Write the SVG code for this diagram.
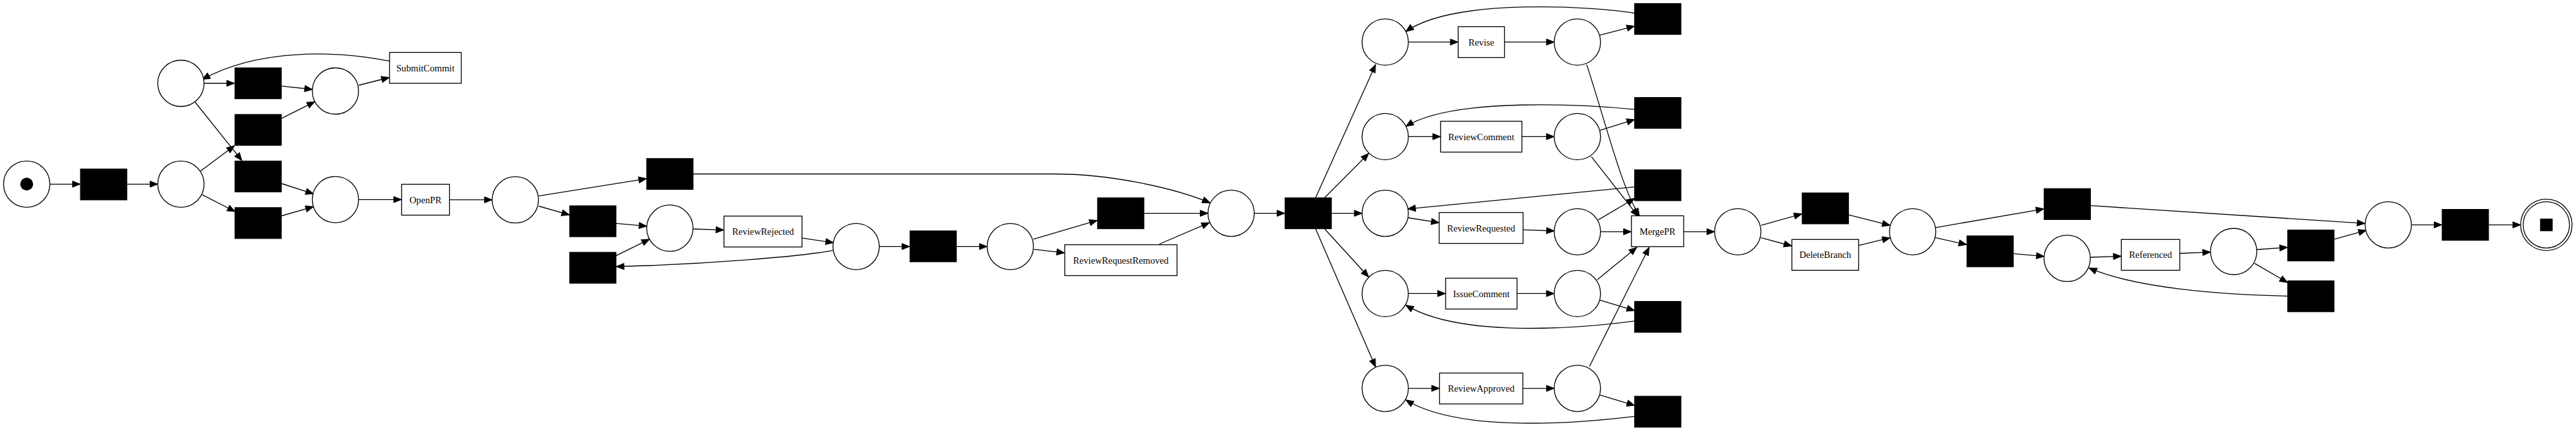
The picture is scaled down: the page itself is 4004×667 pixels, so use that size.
<svg xmlns="http://www.w3.org/2000/svg" width="4004" height="667" viewBox="0 0 4004 667">
<style>
.pl{fill:#fff;stroke:#000;stroke-width:1.33}
.si{fill:#000;stroke:#000;stroke-width:1.2}
.tr{fill:#fff;stroke:#000;stroke-width:1.33}
.lb{font-family:"Liberation Serif","Times New Roman",serif;font-size:14.7px;text-anchor:middle;fill:#000}
.e{fill:none;stroke:#000;stroke-width:1.33;marker-end:url(#arr)}
</style>
<defs>
<marker id="arr" viewBox="0 0 14 12" refX="13" refY="6" markerWidth="14" markerHeight="12" markerUnits="userSpaceOnUse" orient="auto">
<path d="M1,1.2 L13,6 L1,10.8 z" fill="#000" stroke="#000" stroke-width="1"/>
</marker>
</defs>
<rect width="4004" height="667" fill="#fff"/>
<g id="connectors">
<path class="e" d="M77.5,286.3 L124.8,286.3"/>
<path class="e" d="M197.4,286.3 L245.2,286.3"/>
<path class="e" d="M312,265.8 L364.5,226.5"/>
<path class="e" d="M303.4,159 L376,249.6"/>
<path class="e" d="M317.2,129.5 L364.5,129.5"/>
<path class="e" d="M314.1,302.6 L365.4,329"/>
<path class="e" d="M438,133.8 L485.6,139"/>
<path class="e" d="M438,183.8 L489.3,158.1"/>
<path class="e" d="M438,285.5 L487.2,301.3"/>
<path class="e" d="M438,335.5 L487.2,321.4"/>
<path class="e" d="M557.7,132.5 L605.1,120.5"/>
<path class="e" d="M605.1,94.9 C520,78 400,76 314.3,123.5"/>
<path class="e" d="M557.4,310.3 L624,310.3"/>
<path class="e" d="M698.9,310.7 L765,310.7"/>
<path class="e" d="M837.4,304.7 L1004.9,277.8"/>
<path class="e" d="M837.4,320.5 L885.2,334.2"/>
<path class="e" d="M957.9,347.4 L1005.3,351.7"/>
<path class="e" d="M957.9,397.4 L1009.6,371.8"/>
<path class="e" d="M1077.5,356 L1125,357.7"/>
<path class="e" d="M1246.8,370.1 L1295.5,377.4"/>
<path class="e" d="M1294.6,389.3 C1250,398 1100,411 957.9,414.5"/>
<path class="e" d="M1077.5,270.5 L1640,270.5 C1720,270.5 1820,290 1881,315.4"/>
<path class="e" d="M1366.7,383.3 L1414,383.3"/>
<path class="e" d="M1487,383.3 L1534.4,383.3"/>
<path class="e" d="M1606.3,371.8 L1705.5,342.7"/>
<path class="e" d="M1607.2,387.6 L1654.6,393.2"/>
<path class="e" d="M1778.5,331.6 L1877.6,331.6"/>
<path class="e" d="M1802,379.5 L1879.8,346.2"/>
<path class="e" d="M1949.6,331.6 L1997,331.6"/>
<path class="e" d="M2045,307.3 L2138.1,100.4"/>
<path class="e" d="M2059.1,307.3 L2127.4,238.5"/>
<path class="e" d="M2069.7,331.6 L2117.1,331.6"/>
<path class="e" d="M2059.1,356 L2127.4,430.8"/>
<path class="e" d="M2045,356 L2138.1,570.5"/>
<path class="e" d="M2189.1,65.4 L2266.3,65.4"/>
<path class="e" d="M2338.5,65.4 L2415.8,65.4"/>
<path class="e" d="M2189.1,212.4 L2239,212.4"/>
<path class="e" d="M2365.9,212.4 L2415.8,212.4"/>
<path class="e" d="M2188.1,338.5 L2236.8,346.2"/>
<path class="e" d="M2367.6,357.3 L2415.9,359"/>
<path class="e" d="M2189.1,456.4 L2246.7,456.4"/>
<path class="e" d="M2358.2,456.4 L2415.8,456.4"/>
<path class="e" d="M2189.1,603.8 L2237.3,603.8"/>
<path class="e" d="M2367.2,603.8 L2415.8,603.8"/>
<path class="e" d="M2486.8,54.7 L2540.7,40.6"/>
<path class="e" d="M2540.7,20.5 C2480,10 2260,-4 2185.1,49.1"/>
<path class="e" d="M2486.8,202.6 L2540.7,185.9"/>
<path class="e" d="M2540.7,170.1 C2470,163 2260,150 2185.1,196.6"/>
<path class="e" d="M2540.7,290.6 L2188.1,324.8"/>
<path class="e" d="M2484.3,341.9 L2540.7,308.5"/>
<path class="e" d="M2488.1,360.3 L2535.6,360.3"/>
<path class="e" d="M2466.3,100.4 C2500,205 2520,290 2548.4,336.3"/>
<path class="e" d="M2473.6,243.6 L2546.2,336.3"/>
<path class="e" d="M2482.6,435 L2544.1,384.6"/>
<path class="e" d="M2470.6,569.7 L2563.3,384.6"/>
<path class="e" d="M2486.8,466.7 L2540.7,482.9"/>
<path class="e" d="M2540.7,499.1 C2420,515 2260,520 2185.1,474.4"/>
<path class="e" d="M2486.8,614.1 L2540.7,630.3"/>
<path class="e" d="M2540.7,647.4 C2420,662 2260,668 2185.1,621.8"/>
<path class="e" d="M2617.2,360.3 L2665.1,360.3"/>
<path class="e" d="M2737.4,350.4 L2800.7,332.5"/>
<path class="e" d="M2737.4,369.7 L2784.9,382.5"/>
<path class="e" d="M2873.8,334.2 L2937.9,350.4"/>
<path class="e" d="M2889.1,381.6 L2937.9,369.7"/>
<path class="e" d="M3008.8,353.8 L3176.8,324.8"/>
<path class="e" d="M3008.5,369.7 L3056.8,380.3"/>
<path class="e" d="M3249.6,319.7 L3676,347.4"/>
<path class="e" d="M3129.5,394.4 L3177.4,398.7"/>
<path class="e" d="M3249.1,400 L3297,398.3"/>
<path class="e" d="M3388,394 L3435.9,391.9"/>
<path class="e" d="M3508.1,388 L3555.6,384.6"/>
<path class="e" d="M3504.3,409.4 L3555.6,439.3"/>
<path class="e" d="M3628.4,371.8 L3678,358.1"/>
<path class="e" d="M3555.6,460.3 C3450,458 3320,448 3247,416.7"/>
<path class="e" d="M3748.2,349.6 L3795.5,349.6"/>
<path class="e" d="M3868.6,349.6 L3917.9,349.6"/>
</g>
<g id="p_start"><circle class="pl" cx="41.5" cy="286.3" r="36"/><circle cx="41.5" cy="286.3" r="10" fill="#000"/></g>
<g id="p1"><circle class="pl" cx="281.2" cy="286.3" r="36"/></g>
<g id="p2"><circle class="pl" cx="281.2" cy="129.5" r="36"/></g>
<g id="p3"><circle class="pl" cx="521.4" cy="141.5" r="36"/></g>
<g id="p4"><circle class="pl" cx="521.4" cy="310.3" r="36"/></g>
<g id="p5"><circle class="pl" cx="801" cy="310.7" r="36"/></g>
<g id="p6"><circle class="pl" cx="1041.2" cy="354.7" r="36"/></g>
<g id="p7"><circle class="pl" cx="1330.7" cy="383.3" r="36"/></g>
<g id="p9"><circle class="pl" cx="1570.4" cy="383.3" r="36"/></g>
<g id="p8"><circle class="pl" cx="1913.6" cy="331.6" r="36"/></g>
<g id="pa"><circle class="pl" cx="2153.1" cy="65.4" r="36"/></g>
<g id="pb"><circle class="pl" cx="2153.1" cy="212.4" r="36"/></g>
<g id="pc"><circle class="pl" cx="2153.1" cy="331.6" r="36"/></g>
<g id="pd"><circle class="pl" cx="2153.1" cy="456.4" r="36"/></g>
<g id="pe"><circle class="pl" cx="2153.1" cy="603.8" r="36"/></g>
<g id="pa2"><circle class="pl" cx="2451.8" cy="65.4" r="36"/></g>
<g id="pb2"><circle class="pl" cx="2451.8" cy="212.4" r="36"/></g>
<g id="pc2"><circle class="pl" cx="2451.8" cy="360.3" r="36"/></g>
<g id="pd2"><circle class="pl" cx="2451.8" cy="456.4" r="36"/></g>
<g id="pe2"><circle class="pl" cx="2451.8" cy="603.8" r="36"/></g>
<g id="p10"><circle class="pl" cx="2701.1" cy="360.3" r="36"/></g>
<g id="p11"><circle class="pl" cx="2972.9" cy="360.3" r="36"/></g>
<g id="p12"><circle class="pl" cx="3213.1" cy="401.7" r="36"/></g>
<g id="p13"><circle class="pl" cx="3471.9" cy="391" r="36"/></g>
<g id="p14"><circle class="pl" cx="3712.2" cy="349.6" r="36"/></g>
<g id="p_end"><circle class="pl" cx="3957.9" cy="349.6" r="40"/><circle class="pl" cx="3957.9" cy="349.6" r="36"/><rect x="3948.2" y="339.9" width="19.5" height="19.5" fill="#000"/></g>
<g id="t1"><rect class="si" x="125.1" y="262.8" width="72" height="48"/></g>
<g id="ta"><rect class="si" x="365.2" y="105.5" width="72" height="48"/></g>
<g id="tb"><rect class="si" x="365.2" y="178" width="72" height="48"/></g>
<g id="tc"><rect class="si" x="365.2" y="250.4" width="72" height="48"/></g>
<g id="td"><rect class="si" x="365.2" y="322.8" width="72" height="48"/></g>
<g id="te"><rect class="si" x="1005.2" y="246.5" width="72" height="48"/></g>
<g id="tf"><rect class="si" x="885.5" y="320" width="72" height="48"/></g>
<g id="tg"><rect class="si" x="885.5" y="392.3" width="72" height="48"/></g>
<g id="th"><rect class="si" x="1414.5" y="359" width="72" height="48"/></g>
<g id="ti"><rect class="si" x="1706" y="307.6" width="72" height="48"/></g>
<g id="thub"><rect class="si" x="1997.4" y="307.6" width="72" height="48"/></g>
<g id="r1"><rect class="si" x="2540.8" y="5.5" width="72" height="48"/></g>
<g id="r2"><rect class="si" x="2540.8" y="151.6" width="72" height="48"/></g>
<g id="r3"><rect class="si" x="2540.8" y="264" width="72" height="48"/></g>
<g id="r4"><rect class="si" x="2540.8" y="468.7" width="72" height="48"/></g>
<g id="r5"><rect class="si" x="2540.8" y="616.1" width="72" height="48"/></g>
<g id="tj"><rect class="si" x="2801.2" y="300" width="72" height="48"/></g>
<g id="tk"><rect class="si" x="3177.3" y="293.3" width="72" height="48"/></g>
<g id="tl"><rect class="si" x="3057.3" y="366.8" width="72" height="48"/></g>
<g id="tm"><rect class="si" x="3555.9" y="357.7" width="72" height="48"/></g>
<g id="tn"><rect class="si" x="3555.9" y="436.7" width="72" height="48"/></g>
<g id="to"><rect class="si" x="3796" y="325.6" width="72" height="48"/></g>
<g id="SubmitCommit"><rect class="tr" x="605.5" y="81.5" width="111.5" height="48"/><text class="lb" x="661.2" y="110.5">SubmitCommit</text></g>
<g id="OpenPR"><rect class="tr" x="624.3" y="286.5" width="74.3" height="48"/><text class="lb" x="661.4" y="315.6">OpenPR</text></g>
<g id="ReviewRejected"><rect class="tr" x="1125.3" y="336" width="121.3" height="48"/><text class="lb" x="1186" y="365">ReviewRejected</text></g>
<g id="ReviewRequestRemoved"><rect class="tr" x="1655" y="380.5" width="174.5" height="48"/><text class="lb" x="1742.2" y="409.5">ReviewRequestRemoved</text></g>
<g id="Revise"><rect class="tr" x="2266.5" y="41.5" width="72" height="48"/><text class="lb" x="2302.5" y="70.5">Revise</text></g>
<g id="ReviewComment"><rect class="tr" x="2239.3" y="188.5" width="126.3" height="48"/><text class="lb" x="2302.4" y="217.5">ReviewComment</text></g>
<g id="ReviewRequested"><rect class="tr" x="2237" y="330.5" width="130.4" height="48"/><text class="lb" x="2302.2" y="359.5">ReviewRequested</text></g>
<g id="IssueComment"><rect class="tr" x="2247" y="432.5" width="111" height="48"/><text class="lb" x="2302.5" y="461.5">IssueComment</text></g>
<g id="ReviewApproved"><rect class="tr" x="2237.5" y="580" width="129.5" height="48"/><text class="lb" x="2302.2" y="609">ReviewApproved</text></g>
<g id="MergePR"><rect class="tr" x="2535.8" y="335.5" width="81.2" height="48"/><text class="lb" x="2576.4" y="364.5">MergePR</text></g>
<g id="DeleteBranch"><rect class="tr" x="2785.2" y="372.3" width="103.7" height="48"/><text class="lb" x="2837" y="401.3">DeleteBranch</text></g>
<g id="Referenced"><rect class="tr" x="3297.3" y="372.3" width="90.8" height="48"/><text class="lb" x="3342.7" y="401.3">Referenced</text></g>
</svg>
